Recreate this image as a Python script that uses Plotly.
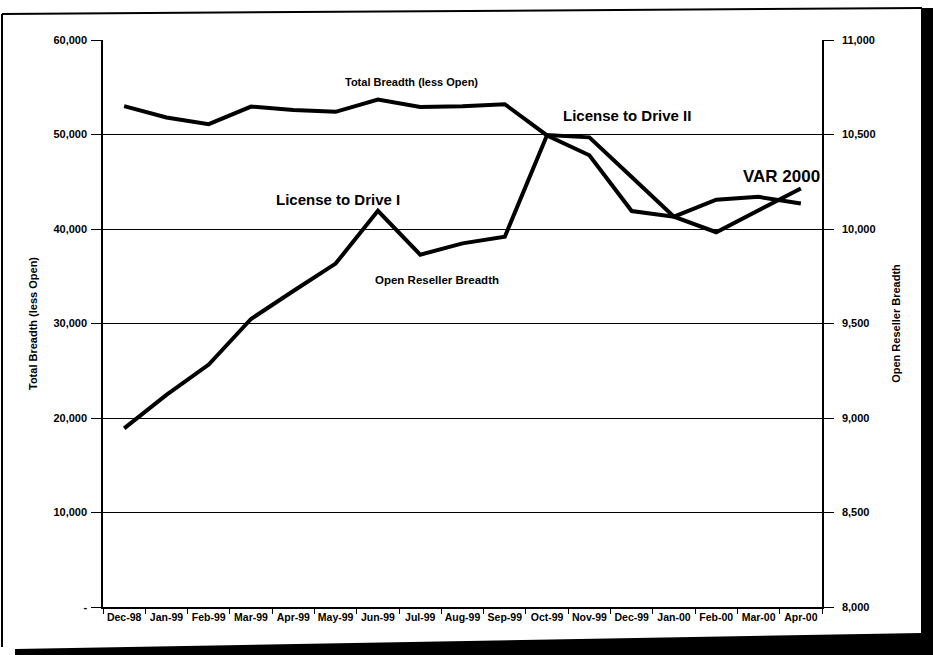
import plotly.graph_objects as go

months = ["Dec-98", "Jan-99", "Feb-99", "Mar-99", "Apr-99", "May-99", "Jun-99", "Jul-99",
          "Aug-99", "Sep-99", "Oct-99", "Nov-99", "Dec-99", "Jan-00", "Feb-00", "Mar-00", "Apr-00"]

total_breadth = [53000, 51800, 51100, 52950, 52600, 52400, 53700, 52900,
                 53000, 53200, 49900, 47800, 41900, 41300, 43100, 43400, 42700]

open_reseller = [8945, 9122, 9283, 9524, 9672, 9817, 10096, 9864,
                 9924, 9959, 10497, 10485, 10275, 10065, 9983, 10101, 10214]

left_ticks = [0, 10000, 20000, 30000, 40000, 50000, 60000]
left_ticktext = ["-", "10,000", "20,000", "30,000", "40,000", "50,000", "60,000"]
right_ticks = [8000, 8500, 9000, 9500, 10000, 10500, 11000]
right_ticktext = ["8,000", "8,500", "9,000", "9,500", "10,000", "10,500", "11,000"]

FONT = "Liberation Sans, Arial, sans-serif"

fig = go.Figure()
fig.add_trace(go.Scatter(x=months, y=total_breadth, mode="lines",
                         line=dict(color="black", width=4), name="Total Breadth (less Open)",
                         yaxis="y"))
fig.add_trace(go.Scatter(x=months, y=open_reseller, mode="lines",
                         line=dict(color="black", width=4), name="Open Reseller Breadth",
                         yaxis="y2"))

L, R, T, B, W, H = 103, 111, 40, 48, 933, 655
PW, PH = W - L - R, H - T - B


def px(x):
    return (x - L) / PW


def py(y):
    return (H - B - y) / PH


shapes = [
    # scanned frame
    dict(type="line", xref="paper", yref="paper", x0=px(2), y0=py(14), x1=px(2), y1=py(647),
         line=dict(color="black", width=2)),
    dict(type="line", xref="paper", yref="paper", x0=px(2), y0=py(14), x1=px(922), y1=py(8),
         line=dict(color="black", width=2)),
    dict(type="rect", xref="paper", yref="paper", x0=px(921), y0=py(8), x1=px(933), y1=py(655),
         fillcolor="black", line=dict(width=0)),
    dict(type="path", xref="paper", yref="paper",
         path=f"M {px(15)} {py(649)} L {px(922)} {py(633)} L {px(922)} {py(655)} L {px(15)} {py(655)} Z",
         fillcolor="black", line=dict(width=0)),
]

ann_font_big = dict(family=FONT, size=15, color="black", weight="bold")

annotations = [
    dict(x=6.8, y=55600, xref="x", yref="y", text="Total Breadth (less Open)",
         showarrow=False, font=dict(family=FONT, size=11, color="black", weight="bold")),
    dict(x=11.9, y=52000, xref="x", yref="y", text="License to Drive II",
         showarrow=False, font=ann_font_big),
    dict(x=5.06, y=43100, xref="x", yref="y", text="License to Drive I",
         showarrow=False, font=ann_font_big),
    dict(x=7.4, y=34600, xref="x", yref="y", text="Open Reseller Breadth",
         showarrow=False, font=dict(family=FONT, size=11.5, color="black", weight="bold")),
    dict(x=15.55, y=45600, xref="x", yref="y", text="VAR 2000",
         showarrow=False, font=dict(family=FONT, size=17, color="black", weight="bold")),
]

fig.update_layout(
    width=W, height=H,
    margin=dict(l=L, r=R, t=T, b=B, pad=0),
    paper_bgcolor="white", plot_bgcolor="white",
    showlegend=False,
    font=dict(family=FONT, color="black"),
    shapes=shapes,
    annotations=annotations,
    xaxis=dict(type="category", categoryorder="array", categoryarray=months,
               range=[-0.5, 16.5], tickson="boundaries", ticks="outside", ticklen=5,
               tickcolor="black", showline=True, linecolor="black", linewidth=1.5,
               showgrid=False, zeroline=False, tickangle=0,
               tickfont=dict(family=FONT, size=10.5, color="black", weight="bold")),
    yaxis=dict(range=[0, 60000], tickvals=left_ticks, ticktext=left_ticktext,
               ticks="outside", ticklen=10, tickcolor="black", showline=True,
               linecolor="black", linewidth=1.5, showgrid=True, gridcolor="black",
               gridwidth=1, zeroline=False, ticklabelstandoff=2,
               tickfont=dict(family=FONT, size=11, color="black", weight="bold"),
               title=dict(text="Total Breadth (less Open)", standoff=14,
                          font=dict(family=FONT, size=11, color="black", weight="bold"))),
    yaxis2=dict(range=[8000, 11000], tickvals=right_ticks, ticktext=right_ticktext,
                overlaying="y", side="right", ticks="outside", ticklen=10,
                tickcolor="black", showline=True, linecolor="black", linewidth=1.5,
                showgrid=False, zeroline=False, ticklabelstandoff=6,
                tickfont=dict(family=FONT, size=11, color="black", weight="bold"),
                title=dict(text="Open Reseller Breadth", standoff=18,
                           font=dict(family=FONT, size=11, color="black", weight="bold"))),
)

fig.write_html("out.html")
